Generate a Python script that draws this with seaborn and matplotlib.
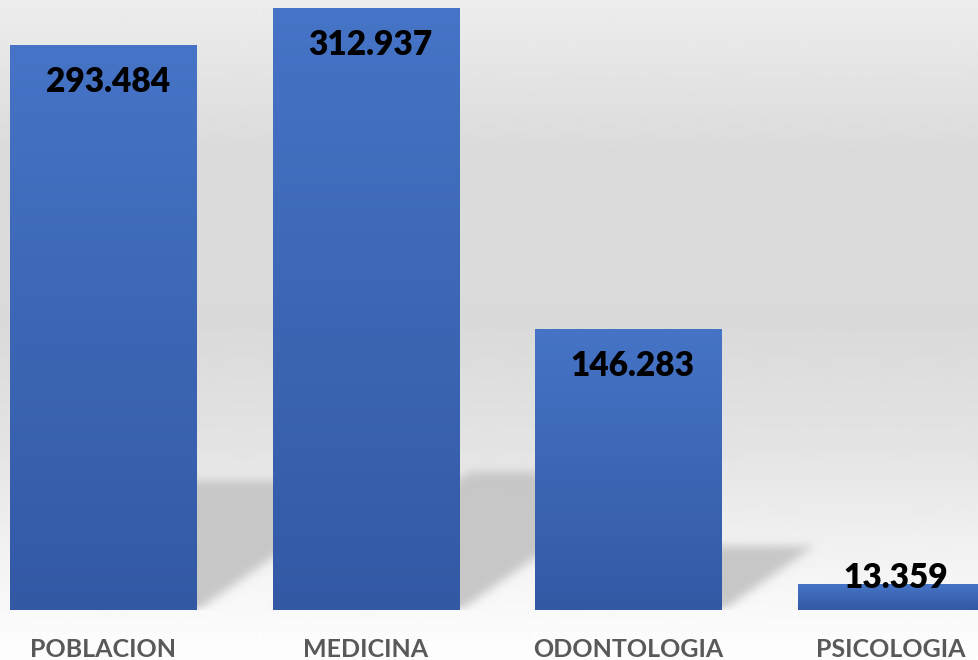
import numpy as np
import matplotlib
matplotlib.use("Agg")
import matplotlib.pyplot as plt
import seaborn as sns
from matplotlib.colors import LinearSegmentedColormap

# ─────────────────────────────────────────────
# DATA
# ─────────────────────────────────────────────
categories = ["POBLACION", "MEDICINA", "ODONTOLOGIA", "PSICOLOGIA"]
values     = [293484, 312937, 146283, 13359]
value_text = ["293.484", "312.937", "146.283", "13.359"]

# ─────────────────────────────────────────────
# STYLE
# ─────────────────────────────────────────────
W, H, DPI = 979, 660, 100
BAR_TOP    = "#4674C6"
BAR_BOTTOM = "#3359A5"
LABEL_GRAY = "#595959"
SHADOW_RGB = (0.776, 0.776, 0.776)

sns.set_theme(style="white")
plt.rcParams["font.family"] = ["Lato", "DejaVu Sans"]

fig = plt.figure(figsize=(W / DPI, H / DPI), dpi=DPI)

# background gradient (light gray at top -> white at bottom)
bg = fig.add_axes([0, 0, 1, 1], zorder=-10)
stops_px = [0, 150, 330, 450, 560, 620, 660]
stops_gray = [237, 219, 218, 228, 243, 250, 254]
rows = np.interp(np.arange(H), stops_px, stops_gray) / 255.0
bg.imshow(np.repeat(rows[:, None], 4, axis=1), cmap="gray", vmin=0, vmax=1,
          aspect="auto", extent=[0, 1, 0, 1], interpolation="bilinear")
bg.set_axis_off()

# main axes: baseline sits 50 px above the bottom edge
base_px = 610
ax = fig.add_axes([0, (H - base_px) / H, 1, base_px / H])
ax.set_facecolor("none")
ax.patch.set_alpha(0)

bar_w = 0.712
sns.barplot(x=categories, y=values, color=BAR_TOP, width=bar_w,
            saturation=1, linewidth=0, edgecolor="none", ax=ax, zorder=3)

XMIN, XMAX = -0.394, 3.335
ymax = max(values) * base_px / 602
ax.set_xlim(XMIN, XMAX)
ax.set_ylim(0, ymax)
sns.despine(ax=ax, left=True, bottom=True, top=True, right=True)
ax.set_yticks([])
ax.set_xlabel("")
ax.set_ylabel("")
ax.tick_params(axis="x", length=0, pad=20.5)
for lbl in ax.get_xticklabels():
    lbl.set_fontsize(18)
    lbl.set_fontweight("bold")
    lbl.set_color(LABEL_GRAY)

# gradient fill inside each bar
grad_cmap = LinearSegmentedColormap.from_list("bar", [BAR_BOTTOM, BAR_TOP])
grad = np.linspace(0, 1, 256)[:, None]
for patch in ax.patches:
    x0, y0 = patch.get_x(), patch.get_y()
    w, h = patch.get_width(), patch.get_height()
    im = ax.imshow(grad, cmap=grad_cmap, aspect="auto", origin="lower",
                   extent=[x0, x0 + w, y0, y0 + h], zorder=3.5,
                   interpolation="bilinear")
    im.set_clip_path(patch)
ax.set_xlim(XMIN, XMAX)
ax.set_ylim(0, ymax)

# blurred perspective shadows behind the bars
ax_w_px, ax_h_px = W, base_px
px_per_x = ax_w_px / (XMAX - XMIN)
px_per_y = ax_h_px / ymax
yy, xx = np.mgrid[0:ax_h_px, 0:ax_w_px]
yy = ax_h_px - yy  # height above baseline, px
mask = np.zeros((ax_h_px, ax_w_px))
k_height, k_shift = 0.23, 1.42
for patch in ax.patches:
    left = (patch.get_x() - XMIN) * px_per_x
    right = left + patch.get_width() * px_per_x
    sh = patch.get_height() * px_per_y * k_height
    xl = left + yy * k_shift
    xr = right + yy * k_shift
    inside = (yy >= 0) & (yy <= sh) & (xx >= xl) & (xx <= xr)
    mask = np.maximum(mask, inside.astype(float))


def box_blur(a, r):
    kern = np.ones(2 * r + 1) / (2 * r + 1)
    a = np.apply_along_axis(lambda m: np.convolve(m, kern, mode="same"), 0, a)
    a = np.apply_along_axis(lambda m: np.convolve(m, kern, mode="same"), 1, a)
    return a


for _ in range(3):
    mask = box_blur(mask, 4)

shadow = np.zeros((ax_h_px, ax_w_px, 4))
shadow[..., 0:3] = SHADOW_RGB
shadow[..., 3] = np.clip(mask, 0, 1) * 0.95
ax.imshow(shadow, extent=[XMIN, XMAX, 0, ymax], aspect="auto",
          zorder=1, interpolation="bilinear")
ax.set_xlim(XMIN, XMAX)
ax.set_ylim(0, ymax)

# value labels: inside the top of tall bars, just above very short ones
for i, (v, txt) in enumerate(zip(values, value_text)):
    bar_px = v * px_per_y
    dy_px = -37 if bar_px > 80 else 6
    ax.annotate(txt, xy=(i, v), xytext=(3, dy_px * 72 / DPI),
                textcoords="offset points", ha="center", va="center",
                fontsize=24, fontweight="heavy", color="black", zorder=5)

fig.savefig("out.png", dpi=DPI)
